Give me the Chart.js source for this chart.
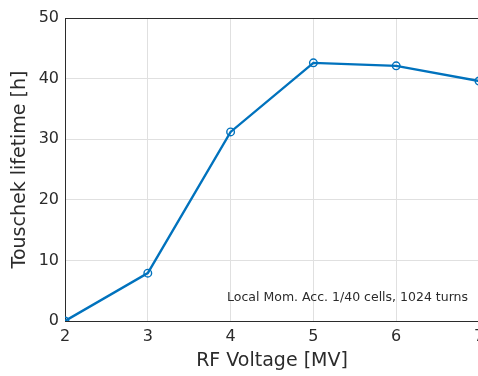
<!DOCTYPE html>
<html>
<head>
<meta charset="utf-8">
<script src="https://cdn.jsdelivr.net/npm/chart.js@4/dist/chart.umd.min.js"></script>
<style>
  html, body { margin: 0; padding: 0; background: #fff; overflow: hidden; }
  #wrap { width: 478px; height: 376px; overflow: hidden; }
  canvas { display: block; }
</style>
</head>
<body>
<div id="wrap"><canvas id="chart" width="500" height="376"></canvas></div>
<script>
// RF voltage scan: Touschek lifetime vs. voltage
const rfVoltage = [2, 3, 4, 5, 6, 7]
const lifetimeHours = [0, 7.9, 31.2, 42.6, 42.1, 39.6]
const xTicks = [2, 3, 4, 5, 6, 7]
const yTicks = [0, 10, 20, 30, 40, 50]
const note = "Local Mom. Acc. 1/40 cells, 1024 turns"

const FONT = "'DejaVu Sans', sans-serif"
const AXIS = "#2b2b2b"
const GRID = "#e0e0e0"
const BLUE = "#0072bd"

// closes the box on top and writes the run settings in the lower right
const boxAndNote = {
  id: "boxAndNote",
  afterDraw(chart) {
    const { ctx, chartArea: a } = chart
    ctx.save()
    ctx.strokeStyle = AXIS
    ctx.lineWidth = 1
    ctx.beginPath()
    ctx.moveTo(a.left, a.top + 0.5)
    ctx.lineTo(a.right, a.top + 0.5)
    ctx.stroke()
    ctx.fillStyle = AXIS
    ctx.font = "12.5px " + FONT
    ctx.textAlign = "right"
    ctx.textBaseline = "middle"
    ctx.fillText(note, a.right - 11, a.bottom - 23)
    ctx.restore()
  }
}

new Chart(document.getElementById("chart"), {
  type: "scatter",
  data: {
    datasets: [{
      data: rfVoltage.map((v, i) => ({ x: v, y: lifetimeHours[i] })),
      showLine: true,
      borderColor: BLUE,
      borderWidth: 2.4,
      pointRadius: 3.8,
      pointBorderWidth: 1.4,
      pointBorderColor: BLUE,
      pointBackgroundColor: "rgba(0,0,0,0)",
      pointStyle: "circle"
    }]
  },
  options: {
    responsive: false,
    animation: false,
    layout: { padding: { top: 18, right: 21, left: 0, bottom: 0 } },
    plugins: { legend: { display: false }, tooltip: { enabled: false } },
    scales: {
      x: {
        type: "linear",
        min: 2,
        max: 7,
        afterBuildTicks: s => { s.ticks = xTicks.map(v => ({ value: v })) },
        afterFit: s => { s.height = 55 },
        grid: { color: GRID, tickLength: 0, drawTicks: false },
        border: { color: AXIS, width: 1 },
        ticks: { color: AXIS, font: { family: FONT, size: 16 }, padding: 6 },
        title: { display: true, text: "RF Voltage [MV]", color: AXIS, font: { family: FONT, size: 19 }, padding: { top: 0 } }
      },
      y: {
        min: 0,
        max: 50,
        afterBuildTicks: s => { s.ticks = yTicks.map(v => ({ value: v })) },
        afterFit: s => { s.width = 65 },
        grid: { color: GRID, tickLength: 0, drawTicks: false },
        border: { color: AXIS, width: 1 },
        ticks: { color: AXIS, font: { family: FONT, size: 16 }, padding: 6 },
        title: { display: true, text: "Touschek lifetime [h]", color: AXIS, font: { family: FONT, size: 19 }, padding: { top: 9, bottom: 2 } }
      }
    }
  },
  plugins: [boxAndNote]
})
</script>
</body>
</html>
